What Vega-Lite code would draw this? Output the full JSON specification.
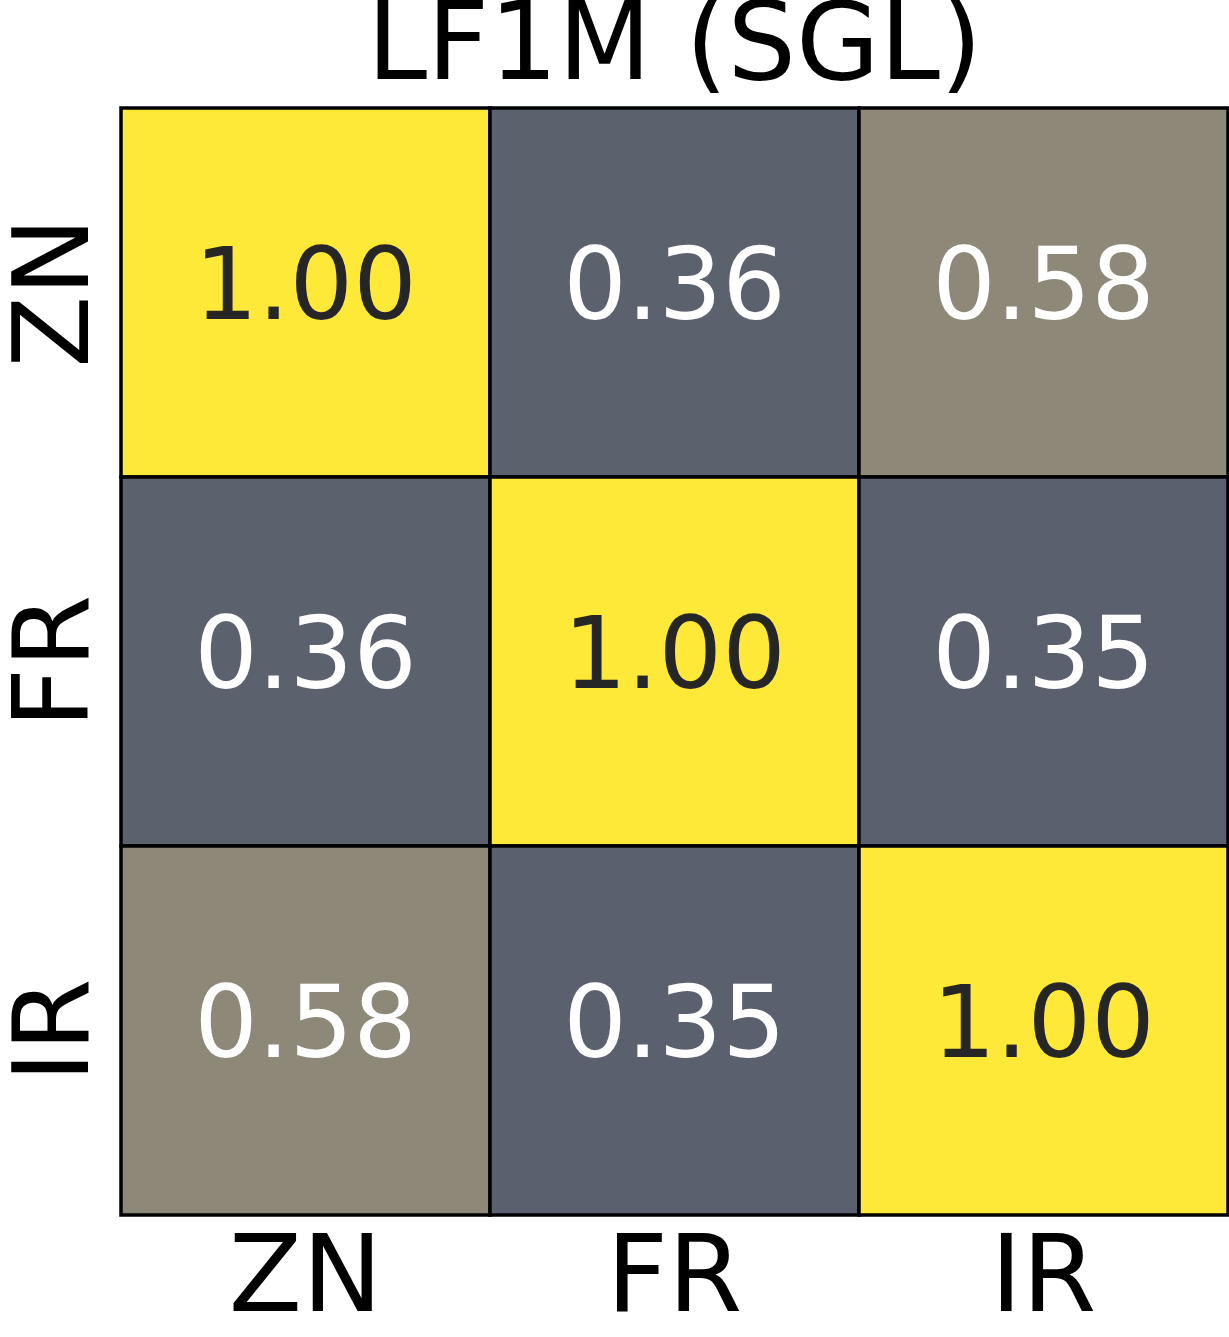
{
  "$schema": "https://vega.github.io/schema/vega-lite/v6.json",
  "autosize": "none",
  "width": 1107,
  "height": 1107,
  "padding": {"left": 121, "top": 108, "right": 1, "bottom": 122},
  "background": "white",
  "config": {"view": {"stroke": null}, "font": "DejaVu Sans"},
  "title": {"text": "LF1M (SGL)", "fontSize": 108, "font": "DejaVu Sans", "fontWeight": "normal", "color": "black", "offset": 4, "anchor": "middle"},
  "data": {"values": [
    {"row": "ZN", "col": "ZN", "value": 1.00},
    {"row": "ZN", "col": "FR", "value": 0.36},
    {"row": "ZN", "col": "IR", "value": 0.58},
    {"row": "FR", "col": "ZN", "value": 0.36},
    {"row": "FR", "col": "FR", "value": 1.00},
    {"row": "FR", "col": "IR", "value": 0.35},
    {"row": "IR", "col": "ZN", "value": 0.58},
    {"row": "IR", "col": "FR", "value": 0.35},
    {"row": "IR", "col": "IR", "value": 1.00}
  ]},
  "encoding": {
    "x": {"field": "col", "type": "nominal", "sort": ["ZN", "FR", "IR"], "scale": {"paddingInner": 0, "paddingOuter": 0},
      "axis": {"title": null, "labelAngle": 0, "labelFontSize": 107, "labelFont": "DejaVu Sans", "labelColor": "black", "ticks": false, "domain": false, "labelPadding": 10}},
    "y": {"field": "row", "type": "nominal", "sort": ["ZN", "FR", "IR"], "scale": {"paddingInner": 0, "paddingOuter": 0},
      "axis": {"title": null, "labelAngle": -90, "labelAlign": "center", "labelBaseline": "bottom", "labelFontSize": 105, "labelFont": "DejaVu Sans", "labelColor": "black", "ticks": false, "domain": false, "labelPadding": 12}}
  },
  "layer": [
    {"mark": {"type": "rect", "stroke": "black", "strokeWidth": 3.5},
     "encoding": {"color": {"field": "value", "type": "quantitative", "scale": {"domain": [0.35, 0.36, 0.58, 1.0], "range": ["#5A606E", "#5C616E", "#8E8878", "#FEE838"]}, "legend": null}}},
    {"mark": {"type": "text", "fontSize": 100, "font": "DejaVu Sans", "baseline": "middle", "dy": -4},
     "encoding": {"text": {"field": "value", "type": "quantitative", "format": ".2f"},
       "color": {"condition": {"test": "datum.value > 0.7", "value": "#262626"}, "value": "white"}}}
  ]
}
